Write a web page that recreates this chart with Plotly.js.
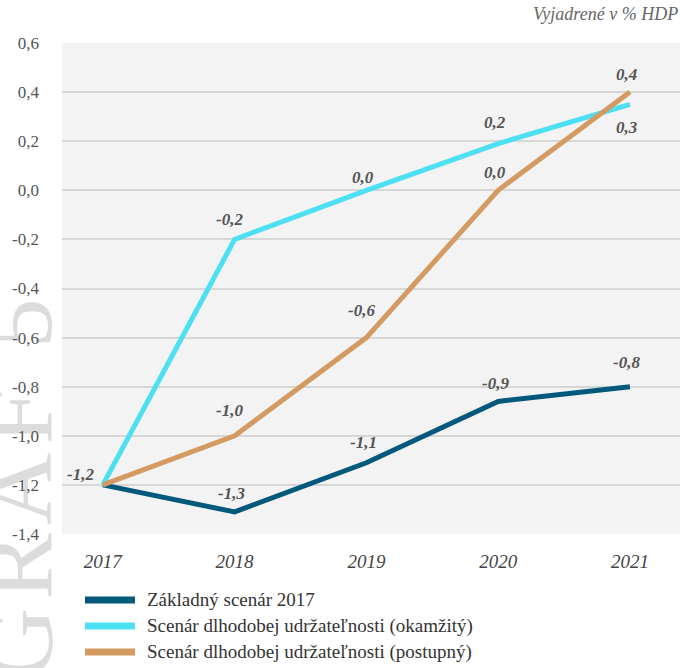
<!DOCTYPE html>
<html><head><meta charset="utf-8">
<script src="https://cdn.plot.ly/plotly-3.0.1.min.js"></script>
<style>
html,body{margin:0;padding:0;background:#fff;}
#wrap{position:relative;width:680px;height:668px;overflow:hidden;}
#chart{position:absolute;left:0;top:0;width:680px;height:668px;z-index:1;}
#wm{position:absolute;left:-32px;top:640px;z-index:0;font-family:'Liberation Serif',serif;font-size:100px;line-height:1;
  letter-spacing:8px;white-space:nowrap;color:#dcdcdc;transform-origin:0 0;transform:rotate(-90deg);}
</style>
</head><body><div id="wrap"><div id="wm">GRAF 5</div><div id="chart"></div></div>
<script>
const years = [2017, 2018, 2019, 2020, 2021];
const seriesNames = ["Základný scenár 2017", "Scenár dlhodobej udržateľnosti (okamžitý)", "Scenár dlhodobej udržateľnosti (postupný)"];
const baseVals = [-1.2, -1.31, -1.11, -0.86, -0.80];
const immediateVals = [-1.2, -0.2, 0.0, 0.19, 0.35];
const gradualVals = [-1.2, -1.0, -0.6, 0.0, 0.4];
const baseLabels = ["-1,2", "-1,3", "-1,1", "-0,9", "-0,8"];
const immediateLabels = ["", "-0,2", "0,0", "0,2", "0,3"];
const gradualLabels = ["", "-1,0", "-0,6", "0,0", "0,4"];
const yTickVals = [0.6, 0.4, 0.2, 0.0, -0.2, -0.4, -0.6, -0.8, -1.0, -1.2, -1.4];
const yTickText = ["0,6", "0,4", "0,2", "0,0", "-0,2", "-0,4", "-0,6", "-0,8", "-1,0", "-1,2", "-1,4"];
const colors = ["#02597c", "#4ddff2", "#d39a62"];

const FONT = "'Liberation Serif', serif";
const series = [baseVals, immediateVals, gradualVals];
const traces = series.map((v, i) => ({
  x: years, y: v, type: "scatter", mode: "lines", name: seriesNames[i],
  line: {color: colors[i], width: 5}, hoverinfo: "skip", showlegend: false
}));

// label placement offsets (px): [xshift, yshift]
const baseShift = [[-22, 10], [-3, 18], [-3, 20], [-3, 18], [-3, 24]];
const immShift = [[0,0], [-5, 20], [-3, 13], [-3, 21], [-3, -23]];
const gradShift = [[0,0], [-5, 25], [-5, 27], [-3, 18], [-3, 18]];
const labelSets = [[baseLabels, baseVals, baseShift], [immediateLabels, immediateVals, immShift], [gradualLabels, gradualVals, gradShift]];
const annotations = [];
labelSets.forEach(([labs, vals, sh]) => {
  labs.forEach((t, j) => {
    if (!t) return;
    annotations.push({x: years[j], y: vals[j], text: "<b><i>" + t + "</i></b>", showarrow: false,
      xshift: sh[j][0], yshift: sh[j][1], font: {family: FONT, size: 17, color: "#555"}});
  });
});
annotations.push({xref: "paper", yref: "paper", x: 1, y: 1.035, xanchor: "right", yanchor: "bottom",
  text: "<i>Vyjadrené v % HDP</i>", showarrow: false, font: {family: FONT, size: 18, color: "#666"}});

// manual legend (paper coordinates)
const legendY = [-0.1344, -0.1874, -0.2403];
const shapes = [];
seriesNames.forEach((n, i) => {
  shapes.push({type: "line", xref: "paper", yref: "paper", x0: 0.0372, x1: 0.1181, y0: legendY[i], y1: legendY[i],
    line: {color: colors[i], width: 7}});
  annotations.push({xref: "paper", yref: "paper", x: 0.1343, y: legendY[i], xanchor: "left", yanchor: "middle",
    text: n, showarrow: false, font: {family: FONT, size: 19, color: "#333"}});
});

const layout = {
  width: 680, height: 668,
  margin: {l: 62, r: 0, t: 43, b: 134},
  paper_bgcolor: "rgba(0,0,0,0)", plot_bgcolor: "#f3f3f3",
  font: {family: FONT, color: "#555"},
  xaxis: {range: [2016.69, 2021.38], tickvals: years, ticktext: years.map(y => "<i>" + y + "</i>"),
    showgrid: false, zeroline: false, showline: false, ticks: "", tickfont: {family: FONT, size: 19, color: "#444"}, ticklabelstandoff: 14},
  yaxis: {range: [-1.4, 0.6], tickvals: yTickVals, ticktext: yTickText, gridcolor: "#d6d6d6", gridwidth: 2,
    zeroline: false, showline: false, ticks: "", tickfont: {family: FONT, size: 17, color: "#555"}, ticklabelstandoff: 22},
  showlegend: false,
  shapes: shapes,
  annotations: annotations
};
Plotly.newPlot("chart", traces, layout, {staticPlot: true, displayModeBar: false});
const wm = document.getElementById("wm");
wm.style.top = (290 + wm.offsetWidth) + "px";
</script></body></html>
